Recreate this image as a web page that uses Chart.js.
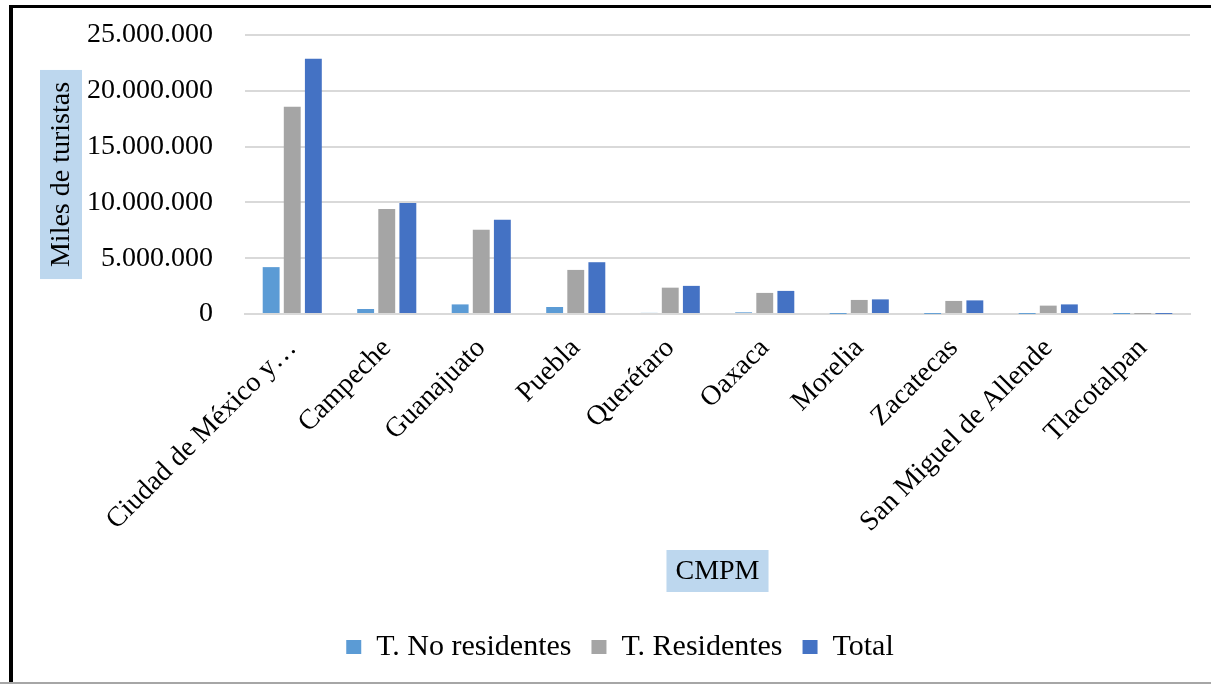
<!DOCTYPE html>
<html>
<head>
<meta charset="utf-8">
<script src="https://cdn.jsdelivr.net/npm/chart.js@4.4.0/dist/chart.umd.min.js"></script>
<style>
  html, body { margin: 0; padding: 0; background: #fff; }
  #wrap { width: 1211px; height: 684px; position: relative; }
</style>
</head>
<body>
<div id="wrap"><canvas id="c" width="1211" height="684"></canvas></div>
<script>
const categories = ["Ciudad de México y…", "Campeche", "Guanajuato", "Puebla", "Querétaro", "Oaxaca", "Morelia", "Zacatecas", "San Miguel de Allende", "Tlacotalpan"];
const noResidentes = [4200000, 450000, 860000, 630000, 100000, 150000, 8000, 8000, 8000, 2000];
const residentes = [18570000, 9400000, 7550000, 3950000, 2360000, 1890000, 1260000, 1170000, 750000, 5000];
const total = [22880000, 9950000, 8450000, 4640000, 2520000, 2070000, 1310000, 1220000, 860000, 7000];
const seriesNames = ["T. No residentes", "T. Residentes", "Total"];
const yTitle = "Miles de turistas";
const xTitle = "CMPM";

const FONT = "'Liberation Serif', 'Times New Roman', serif";

function fmt(v) {
  return String(Math.round(v)).replace(/\B(?=(\d{3})+(?!\d))/g, ".");
}

const decor = {
  id: 'decor',
  afterDraw(chart) {
    const ctx = chart.ctx;
    const a = chart.chartArea;
    ctx.save();
    // frame
    ctx.fillStyle = '#000';
    ctx.fillRect(9, 5, 1202, 3);
    ctx.fillRect(9, 5, 4, 679);
    ctx.fillStyle = '#a6a6a6';
    ctx.fillRect(0, 682, 1211, 2);

    ctx.font = '28px ' + FONT;
    ctx.textAlign = 'center';
    ctx.textBaseline = 'middle';
    // y title
    const cy = (a.top + a.bottom) / 2;
    const wy = ctx.measureText(yTitle).width + 24;
    ctx.save();
    ctx.translate(61, cy);
    ctx.rotate(-Math.PI / 2);
    ctx.fillStyle = '#BDD7EE';
    ctx.fillRect(-wy / 2, -21, wy, 42);
    ctx.fillStyle = '#000';
    ctx.fillText(yTitle, 0, 1);
    ctx.restore();
    // x title
    const cx = (a.left + a.right) / 2;
    const wx = ctx.measureText(xTitle).width + 18;
    ctx.fillStyle = '#BDD7EE';
    ctx.fillRect(cx - wx / 2, 550, wx, 42);
    ctx.fillStyle = '#000';
    ctx.fillText(xTitle, cx, 572);
    ctx.restore();
  }
};

new Chart(document.getElementById('c'), {
  type: 'bar',
  data: {
    labels: categories,
    datasets: [
      { label: seriesNames[0], data: noResidentes, backgroundColor: '#5B9BD5' },
      { label: seriesNames[1], data: residentes, backgroundColor: '#A5A5A5' },
      { label: seriesNames[2], data: total, backgroundColor: '#4472C4' }
    ]
  },
  options: {
    responsive: false,
    animation: false,
    devicePixelRatio: 1,
    categoryPercentage: 0.67,
    barPercentage: 0.8,
    layout: { padding: { left: 50, right: 21, top: 35, bottom: 12 } },
    plugins: {
      tooltip: { enabled: false },
      legend: {
        position: 'bottom',
        labels: {
          font: { family: FONT, size: 30 },
          color: '#000',
          boxWidth: 15,
          boxHeight: 14,
          padding: 20
        }
      }
    },
    scales: {
      x: {
        grid: { display: false, drawTicks: false },
        border: { color: '#d9d9d9', width: 2 },
        ticks: {
          autoSkip: false,
          maxRotation: 45,
          minRotation: 45,
          color: '#000',
          padding: 18,
          font: { family: FONT, size: 28 }
        },
        afterFit(scale) { scale.height = 298; }
      },
      y: {
        min: 0,
        max: 25000000,
        grid: { color: '#d9d9d9', lineWidth: 2, drawTicks: false },
        border: { display: false },
        ticks: {
          stepSize: 5000000,
          color: '#000',
          padding: 32,
          font: { family: FONT, size: 28 },
          callback: (v) => fmt(v)
        },
        afterFit(scale) {
          scale.width = 195;
          scale.paddingTop = 0;
          scale.paddingBottom = 0;
        }
      }
    }
  },
  plugins: [decor]
});
</script>
</body>
</html>
